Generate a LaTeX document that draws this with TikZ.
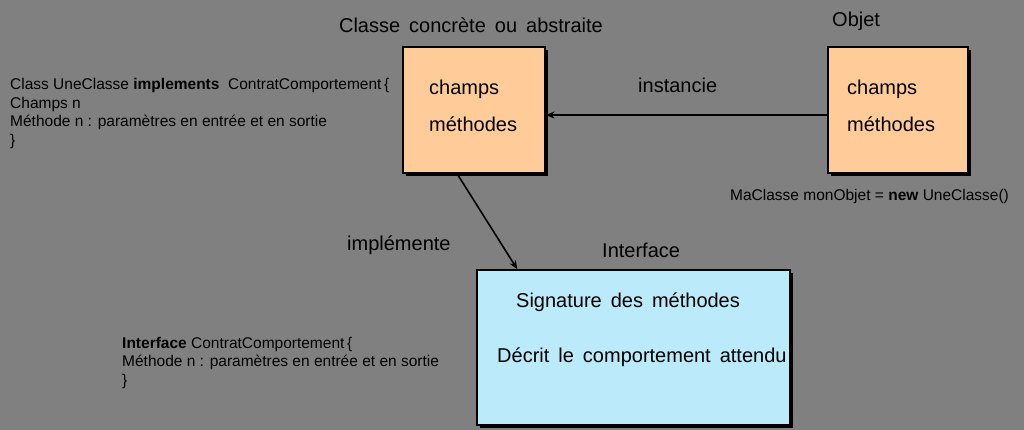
\documentclass[tikz,border=0pt]{standalone}
\usepackage{fontspec}
\setmainfont{Liberation Sans}
\usetikzlibrary{arrows.meta,shadows}
\definecolor{fondgris}{HTML}{808080}
\definecolor{orangeclair}{HTML}{FFCC99}
\definecolor{bleuclair}{HTML}{BBEBFB}
\newcommand{\grandtexte}{\fontsize{20}{24}\selectfont\spaceskip=9pt\relax}
\newcommand{\codetexte}{\fontsize{15.5}{18.5}\selectfont}
\tikzset{
  boite/.style={draw=black, line width=1.2pt, inner sep=0pt,
    drop shadow={shadow xshift=3pt, shadow yshift=-3pt, fill=black, opacity=1}},
  titre/.style={font=\grandtexte, inner sep=0pt, anchor=base west},
  code/.style={font=\codetexte, inner sep=0pt, anchor=base west, align=left},
  fleche/.style={line width=1.6pt, -{Stealth[length=9pt,width=7pt]}}
}
\begin{document}
\begin{tikzpicture}[x=1pt,y=1pt]
\fill[fondgris] (0,0) rectangle (1024,-430);
\useasboundingbox (0,0) rectangle (1024,-430);
% boites
\node[boite, fill=orangeclair, minimum width=142, minimum height=126] (cls) at (474,-110) {};
\node[boite, fill=orangeclair, minimum width=140, minimum height=126] (obj) at (898,-110) {};
\node[boite, fill=bleuclair, minimum width=313, minimum height=155] (itf) at (633.5,-347.5) {};
% titres
\node[titre, anchor=base] (tcls) at (471,-33) {Classe concrète ou abstraite};
\node[titre] (tobj) at (832,-27) {Objet};
\node[titre] (titf) at (602,-258) {Interface};
\node[titre] (inst) at (638,-93) {instancie};
\node[titre] (impl) at (347,-250) {implémente};
% contenu des boites
\node[titre] (cchamps) at (429,-95) {champs};
\node[titre] (cmeth) at (429,-132) {méthodes};
\node[titre] (ochamps) at (847,-95) {champs};
\node[titre] (ometh) at (847,-132) {méthodes};
\node[titre] (isig) at (516,-307) {Signature des méthodes};
\node[titre] (idec) at (497,-362) {Décrit le comportement attendu};
% code (base = derniere ligne)
\node[code] (ccode) at (10,-145.5) {Class UneClasse \textbf{implements}\ \ ContratComportement\,\{\\Champs n\\Méthode n\ : paramètres en entrée et en sortie\\\}};
\node[code] (icode) at (122,-385) {\textbf{Interface} ContratComportement\,\{\\Méthode n\ : paramètres en entrée et en sortie\\\}};
\node[code] (ocode) at (730,-201) {MaClasse monObjet = \textbf{new} UneClasse()};
% fleches
\draw[fleche] ([yshift=-5]obj.west) -- ([yshift=-5]cls.east);
\draw[fleche] ([xshift=-17]cls.south) -- ([xshift=41]itf.north west);
\end{tikzpicture}
\end{document}
